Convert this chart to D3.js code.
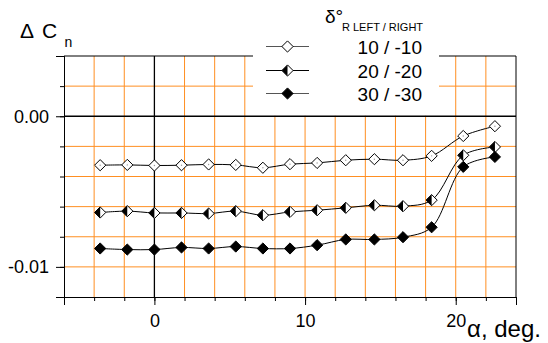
<!DOCTYPE html>
<html>
<head>
<meta charset="utf-8">
<script src="https://cdn.jsdelivr.net/npm/d3@7"></script>
<style>
  body { margin: 0; background: #fff; }
  svg { display: block; font-family: 'Liberation Sans', Arial, sans-serif; }
</style>
</head>
<body>
<div id="chart"></div>
<script>
'use strict'
// angle of attack, deg
let alpha = [-3.6, -1.8, 0, 1.8, 3.6, 5.4, 7.2, 9.0, 10.8, 12.7, 14.6, 16.5, 18.4, 20.5, 22.6];
// delta Cn for each rudder setting
let dcn10 = [-0.00325, -0.00323, -0.00327, -0.00325, -0.0032, -0.00323, -0.00342, -0.00318, -0.0031, -0.00292, -0.00285, -0.00292, -0.00263, -0.00131, -0.00066];
let dcn20 = [-0.00639, -0.0063, -0.00642, -0.00642, -0.00646, -0.0063, -0.00657, -0.00635, -0.00624, -0.00608, -0.00591, -0.00597, -0.00557, -0.00259, -0.00204];
let dcn30 = [-0.00878, -0.00885, -0.00885, -0.00871, -0.00878, -0.00865, -0.00878, -0.00878, -0.00856, -0.00818, -0.00818, -0.00803, -0.00737, -0.00336, -0.0027];
let seriesNames = ['10 / -10', '20 / -20', '30 / -30'];
let xTicks = [-6, -4, -2, 0, 2, 4, 6, 8, 10, 12, 14, 16, 18, 20, 22, 24];
let xLabels = [0, 10, 20];
let yTicks = [0.004, 0.002, 0, -0.002, -0.004, -0.006, -0.008, -0.01, -0.012];
let yLabels = [0, -0.01];

let W = 548, H = 343;
let plot = {left: 64, right: 516, top: 56, bottom: 297};
let orange = '#ff8f22';

let x = d3.scaleLinear().domain([-6, 24]).range([plot.left, plot.right]);
let y = d3.scaleLinear().domain([-0.012, 0.004]).range([plot.bottom, plot.top]);

let svg = d3.select('#chart')
  .append('svg')
  .attr('width', W)
  .attr('height', H);

// grid
svg.append('g').selectAll('line')
  .data(xTicks.filter(function(d) { return d !== 0 && d > -6 && d < 24; }))
  .enter().append('line')
  .attr('x1', function(d) { return x(d); })
  .attr('x2', function(d) { return x(d); })
  .attr('y1', plot.top)
  .attr('y2', plot.bottom)
  .attr('stroke', orange)
  .attr('stroke-width', 1);
svg.append('g').selectAll('line')
  .data(yTicks.filter(function(d) { return d !== 0 && d > -0.012 && d < 0.004; }))
  .enter().append('line')
  .attr('x1', plot.left)
  .attr('x2', plot.right)
  .attr('y1', function(d) { return y(d); })
  .attr('y2', function(d) { return y(d); })
  .attr('stroke', orange)
  .attr('stroke-width', 1);

// legend background hides the grid
svg.append('rect')
  .attr('x', 253)
  .attr('y', 0)
  .attr('width', 186)
  .attr('height', y(0) - 0.5)
  .attr('fill', '#fff');

// zero lines
svg.append('line')
  .attr('x1', x(0)).attr('x2', x(0))
  .attr('y1', plot.top).attr('y2', plot.bottom)
  .attr('stroke', '#000').attr('stroke-width', 1.3);
svg.append('line')
  .attr('x1', plot.left).attr('x2', plot.right)
  .attr('y1', y(0)).attr('y2', y(0))
  .attr('stroke', '#000').attr('stroke-width', 1.3);

// frame top / right
svg.append('line')
  .attr('x1', plot.left).attr('x2', 253)
  .attr('y1', plot.top).attr('y2', plot.top)
  .attr('stroke', '#000');
svg.append('line')
  .attr('x1', 439).attr('x2', plot.right)
  .attr('y1', plot.top).attr('y2', plot.top)
  .attr('stroke', '#000');
svg.append('line')
  .attr('x1', plot.right).attr('x2', plot.right)
  .attr('y1', plot.top).attr('y2', plot.bottom)
  .attr('stroke', '#000');

// axes: minor ticks then major ticks with labels
let xMinor = d3.axisBottom(x).tickValues(xTicks).tickSize(4).tickFormat('');
let xMajor = d3.axisBottom(x).tickValues(xLabels).tickSize(8).tickPadding(9).tickFormat(d3.format('d'));
let yMinor = d3.axisLeft(y).tickValues(yTicks).tickSize(4).tickFormat('');
let yMajor = d3.axisLeft(y).tickValues(yLabels).tickSize(8).tickPadding(7)
  .tickFormat(function(d) { return d.toFixed(2); });

[xMinor, xMajor].forEach(function(ax) {
  svg.append('g')
    .attr('transform', 'translate(0,' + plot.bottom + ')')
    .call(ax);
});
[yMinor, yMajor].forEach(function(ax) {
  svg.append('g')
    .attr('transform', 'translate(' + plot.left + ',0)')
    .call(ax);
});
svg.selectAll('.domain').attr('stroke', '#000');
svg.selectAll('.tick line').attr('stroke', '#000');
svg.selectAll('.tick text')
  .attr('fill', '#000')
  .attr('font-size', '18px')
  .attr('font-family', 'Liberation Sans, Arial, sans-serif');

// axis titles
svg.append('text')
  .attr('x', 20)
  .attr('y', 38)
  .attr('font-size', '21px')
  .attr('fill', '#000')
  .text('\u0394');
svg.append('text')
  .attr('x', 42)
  .attr('y', 38)
  .attr('font-size', '21px')
  .attr('fill', '#000')
  .text('C');
svg.append('text')
  .attr('x', 64.5)
  .attr('y', 47)
  .attr('font-size', '14px')
  .attr('fill', '#000')
  .text('n');

svg.append('text')
  .attr('x', 467)
  .attr('y', 337)
  .attr('font-size', '24px')
  .attr('fill', '#000')
  .text('\u03b1, deg.');

// data
let series = [dcn10, dcn20, dcn30].map(function(vals, i) {
  return {kind: i, values: alpha.map(function(a, j) { return {a: a, v: vals[j]}; })};
});

let line = d3.line()
  .x(function(d) { return x(d.a); })
  .y(function(d) { return y(d.v); })
  .curve(d3.curveCatmullRom.alpha(0.5));

svg.append('g').selectAll('path')
  .data(series)
  .enter().append('path')
  .attr('d', function(d) { return line(d.values); })
  .attr('fill', 'none')
  .attr('stroke', '#000')
  .attr('stroke-width', 1);

let r = 5.6;
let diamond = 'M0,' + (-r) + 'L' + r + ',0L0,' + r + 'L' + (-r) + ',0Z';
let leftHalf = 'M0,' + (-r) + 'L' + (-r) + ',0L0,' + r + 'Z';

function drawMarker(g, kind, dot) {
  g.append('path')
    .attr('d', diamond)
    .attr('fill', kind === 2 ? '#000' : '#fff')
    .attr('stroke', '#000')
    .attr('stroke-width', 1);
  if (kind === 1) {
    g.append('path').attr('d', leftHalf).attr('fill', '#000');
  }
  if (kind === 0 && dot) {
    g.append('circle').attr('r', 0.7).attr('fill', '#999');
  }
}

series.forEach(function(s) {
  svg.append('g').selectAll('g')
    .data(s.values)
    .enter().append('g')
    .attr('transform', function(d) { return 'translate(' + x(d.a) + ',' + y(d.v) + ')'; })
    .each(function() { drawMarker(d3.select(this), s.kind, true); });
});

// legend
let legend = svg.append('g');
let legY = [46.5, 70.5, 93.5];
legend.append('text')
  .attr('x', 325)
  .attr('y', 23)
  .attr('font-size', '19px')
  .attr('fill', '#000')
  .text('\u03b4\u00b0');
legend.append('text')
  .attr('x', 342)
  .attr('y', 31)
  .attr('font-size', '11px')
  .attr('fill', '#000')
  .text('R LEFT / RIGHT');
seriesNames.forEach(function(name, i) {
  let row = legend.append('g').attr('transform', 'translate(0,' + legY[i] + ')');
  row.append('line')
    .attr('x1', 266).attr('x2', 309)
    .attr('stroke', i === 1 ? '#000' : '#555')
    .attr('stroke-width', 1.2);
  drawMarker(row.append('g').attr('transform', 'translate(287.5,0)'), i, false);
  row.append('text')
    .attr('x', 422)
    .attr('y', 7)
    .attr('text-anchor', 'end')
    .attr('font-size', '19px')
    .attr('fill', '#000')
    .text(name);
});
</script>
</body>
</html>
